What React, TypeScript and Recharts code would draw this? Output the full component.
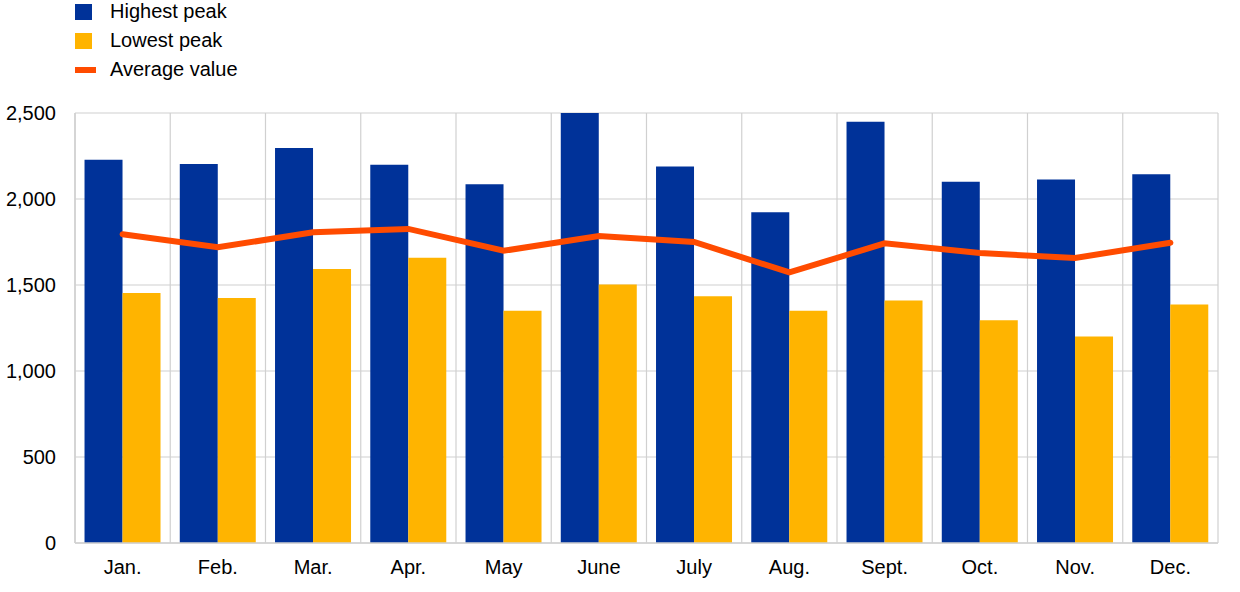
import { Bar, CartesianGrid, ComposedChart, Legend, Line, XAxis, YAxis } from 'recharts';

const MONTHS = ['Jan.', 'Feb.', 'Mar.', 'Apr.', 'May', 'June', 'July', 'Aug.', 'Sept.', 'Oct.', 'Nov.', 'Dec.'];
const HIGHEST_PEAK = [2228, 2203, 2296, 2199, 2086, 2500, 2189, 1923, 2449, 2100, 2113, 2144];
const LOWEST_PEAK = [1453, 1424, 1593, 1659, 1350, 1503, 1434, 1350, 1410, 1295, 1200, 1387];
const AVERAGE_VALUE = [1795, 1719, 1807, 1826, 1699, 1785, 1750, 1573, 1742, 1686, 1657, 1746];
const Y_TICKS = [0, 500, 1000, 1500, 2000, 2500];

const BLUE = '#003299';
const YELLOW = '#FFB400';
const ORANGE = '#FF4B00';
const GRID = '#d0d0d0';
const FONT = '"Liberation Sans", Arial, sans-serif';

const LEGEND_ITEMS = [
  { label: 'Highest peak', color: BLUE, kind: 'box' },
  { label: 'Lowest peak', color: YELLOW, kind: 'box' },
  { label: 'Average value', color: ORANGE, kind: 'line' }
];

const data = MONTHS.map((month, i) => ({
  month,
  high: HIGHEST_PEAK[i],
  low: LOWEST_PEAK[i],
  avg: AVERAGE_VALUE[i]
}));

const renderLegend = () => (
  <div style={{ fontFamily: FONT, fontSize: 20, color: '#000' }}>
    {LEGEND_ITEMS.map((item) => (
      <div key={item.label} style={{ display: 'flex', alignItems: 'center', height: 29 }}>
        <span style={{ width: 35, display: 'flex', alignItems: 'center' }}>
          {item.kind === 'box' ? (
            <span style={{ width: 17, height: 16, background: item.color, display: 'block' }} />
          ) : (
            <span style={{ width: 21, height: 6, background: item.color, display: 'block' }} />
          )}
        </span>
        <span>{item.label}</span>
      </div>
    ))}
  </div>
);

export default function App() {
  return (
    <div style={{ position: 'absolute', left: 0, top: 0, width: 1240, height: 592, background: '#fff' }}>
      <ComposedChart
        width={1240}
        height={592}
        data={data}
        margin={{ top: 113, right: 22, bottom: 0, left: 0 }}
        barCategoryGap="10%"
        barGap={0}
      >
        <CartesianGrid
          stroke={GRID}
          strokeWidth={1.2}
          verticalCoordinatesGenerator={({ offset }: any) =>
            MONTHS.map((_, i) => offset.left + (i * offset.width) / MONTHS.length).concat(offset.left + offset.width)
          }
        />
        <XAxis
          dataKey="month"
          height={49}
          tickLine={false}
          tickMargin={11}
          axisLine={{ stroke: GRID, strokeWidth: 1.5 }}
          tick={{ fill: '#000', fontSize: 20, fontFamily: FONT }}
        />
        <YAxis
          width={75}
          domain={[0, 2500]}
          ticks={Y_TICKS}
          tickLine={false}
          tickMargin={13}
          axisLine={{ stroke: GRID, strokeWidth: 1.5 }}
          tickFormatter={(v: number) => v.toLocaleString('en-US')}
          tick={{ fill: '#000', fontSize: 20, fontFamily: FONT }}
        />
        <Legend
          layout="vertical"
          align="center"
          verticalAlign="middle"
          content={renderLegend}
          wrapperStyle={{ top: -3, left: 75, width: 300, height: 90 }}
        />
        <Bar dataKey="high" name="Highest peak" fill={BLUE} isAnimationActive={false} />
        <Bar dataKey="low" name="Lowest peak" fill={YELLOW} isAnimationActive={false} />
        <Line
          dataKey="avg"
          name="Average value"
          type="linear"
          stroke={ORANGE}
          strokeWidth={6}
          strokeLinecap="round"
          dot={false}
          activeDot={false}
          isAnimationActive={false}
        />
      </ComposedChart>
    </div>
  );
}
